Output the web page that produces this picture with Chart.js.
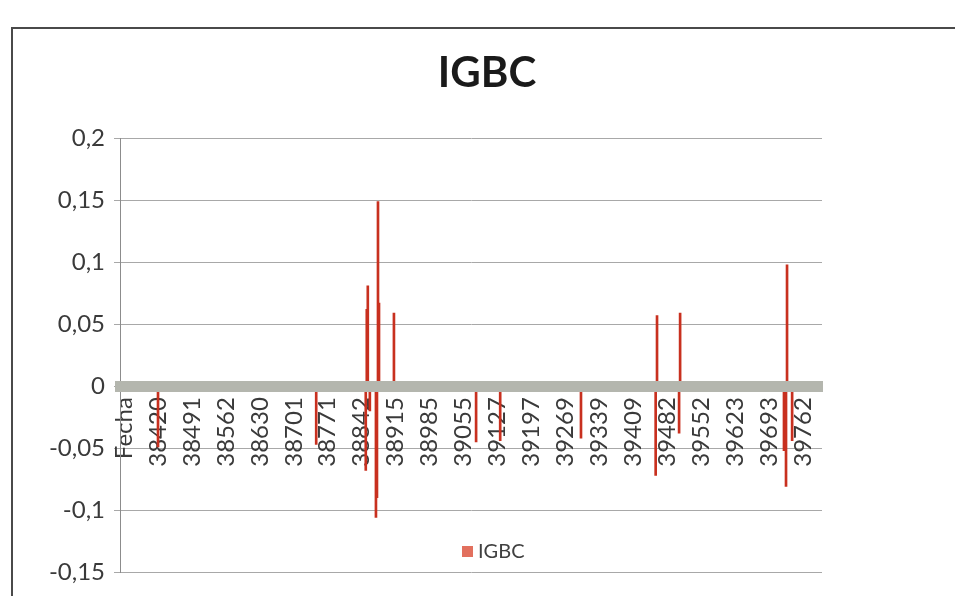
<!DOCTYPE html>
<html>
<head>
<meta charset="utf-8">
<title>IGBC</title>
<script src="https://cdn.jsdelivr.net/npm/chart.js@4.4.0/dist/chart.umd.min.js"></script>
<style>
  html, body { margin: 0; padding: 0; background: #fff; overflow: hidden; }
  #frame {
    position: absolute; left: 11px; top: 27px; width: 1000px; height: 620px;
    border-left: 2px solid #4a4a4a; border-top: 2px solid #4a4a4a;
  }
  #wrap { position: absolute; left: 0; top: 0; width: 955px; height: 596px; }
</style>
</head>
<body>
<div id="frame"></div>
<div id="wrap"><canvas id="chart"></canvas></div>
<script>
// category labels shown on the x axis (Excel shows one every ~50 rows)
const tickLabels = ["Fecha", "38420", "38491", "38562", "38630", "38701", "38771",
  "38842", "38915", "38985", "39055", "39127", "39197", "39269", "39339",
  "39409", "39482", "39552", "39623", "39693", "39762"];

// y axis ticks
const yTicks = [-0.15, -0.1, -0.05, 0, 0.05, 0.1, 0.15, 0.2];

// spikes of the series, position in label units (0 = "Fecha") and value
const spikePos = [1.00, 5.66, 7.12, 7.15, 7.18, 7.24, 7.42, 7.45, 7.48, 7.51, 7.95,
  10.37, 11.08, 13.46, 15.66, 15.70, 16.35, 16.38, 19.44, 19.50, 19.53, 19.68];
const spikeValues = [-0.049, -0.047, -0.068, 0.062, 0.081, -0.020, -0.106, -0.090, 0.149, 0.067, 0.059,
  -0.045, -0.044, -0.042, -0.072, 0.057, -0.038, 0.059, -0.052, -0.081, 0.098, -0.044];

const fmt = v => String(Math.round(v * 100) / 100).replace(".", ",");

// legend drawn inside the plot, near the bottom, like the Excel one
const insideLegend = {
  id: "insideLegend",
  afterDraw(chart) {
    const { ctx, chartArea } = chart;
    const label = chart.data.datasets[0].label;
    const x = chartArea.left + 342;
    const y = chartArea.bottom - 21;
    ctx.save();
    ctx.fillStyle = "#e2705e";
    ctx.fillRect(x, y - 5, 11, 11);
    ctx.font = "20px Lato";
    ctx.fillStyle = "#404040";
    ctx.textBaseline = "middle";
    ctx.fillText(label, x + 16, y + 1);
    ctx.restore();
  }
};

Chart.defaults.font.family = "Lato";
Chart.defaults.color = "#3a3a3a";

new Chart(document.getElementById("chart"), {
  type: "bar",
  data: {
    datasets: [{
      label: "IGBC",
      data: spikePos.map((p, i) => ({ x: p, y: spikeValues[i] })),
      backgroundColor: "#c8301f",
      barThickness: 2
    }]
  },
  options: {
    responsive: true,
    maintainAspectRatio: false,
    animation: false,
    layout: { padding: { left: 19, top: 0, right: 0, bottom: 24 } },
    plugins: {
      legend: { display: false },
      tooltip: { enabled: false },
      title: {
        display: true,
        text: "IGBC",
        color: "#1a1a1a",
        font: { size: 42, weight: "bold" },
        padding: { top: 48, bottom: 40 }
      }
    },
    scales: {
      x: {
        type: "linear",
        position: { y: 0 },
        min: -0.12,
        max: 20.56,
        offset: false,
        afterBuildTicks: s => { s.ticks = tickLabels.map((t, i) => ({ value: i })); },
        afterFit: s => { s.height = 0; },
        grid: { display: false, drawTicks: false },
        border: { color: "#b4b6ae", width: 11, z: 1 },
        ticks: {
          autoSkip: false,
          minRotation: 90,
          maxRotation: 90,
          padding: 11,
          font: { size: 24 },
          callback: v => tickLabels[Math.round(v)]
        }
      },
      y: {
        min: -0.15,
        max: 0.2,
        afterBuildTicks: s => { s.ticks = yTicks.map(v => ({ value: v })); },
        afterFit: s => { s.width = 101; },
        grid: { color: "#a8a8a8", tickLength: 6 },
        border: { color: "#8c8c8c" },
        ticks: { padding: 9, font: { size: 24 }, callback: v => fmt(v) }
      },
      yPad: {
        position: "right",
        display: true,
        grid: { display: false },
        border: { display: false },
        ticks: { display: false },
        afterFit: s => { s.width = 133; }
      }
    }
  },
  plugins: [insideLegend]
});
</script>
</body>
</html>
